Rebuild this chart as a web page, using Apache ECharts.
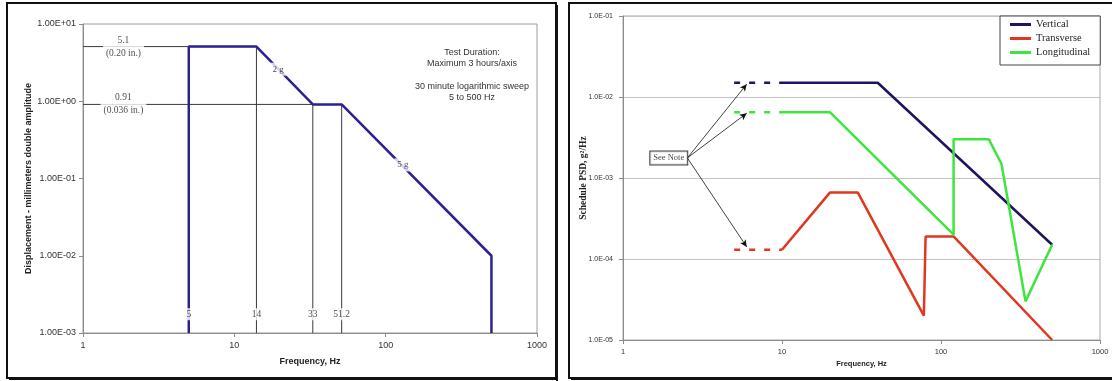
<!DOCTYPE html>
<html>
<head>
<meta charset="utf-8">
<script src="https://cdn.jsdelivr.net/npm/echarts@6/dist/echarts.min.js"></script>
<style>
  html, body { margin: 0; padding: 0; background: #fff; }
  #chart { width: 1112px; height: 381px; }
</style>
</head>
<body>
<div id="chart"></div>
<script>
// ---- Sine sweep displacement profile (left panel) ----
const sweepFreq = [5, 5, 14, 33, 51.2, 500, 500];
const sweepDisp = [0.001, 5.1, 5.1, 0.91, 0.91, 0.01, 0.001];

// horizontal reference levels (mm) and where each one meets the profile (Hz)
const refLevels = [5.1, 0.91];
const refLevelInches = ['0.20', '0.036'];
const refLevelEndFreq = [14, 33];
const refLevelLabelFreq = 1.85;

// vertical reference frequencies (Hz) and the level each one rises to
const refFreqs = [5, 14, 33, 51.2];
const refFreqTop = [5.1, 5.1, 0.91, 0.91];
const refFreqLabelLevel = 0.00175;

// slope annotations on the profile: [freq, disp, text]
const slopeNotes = [[19.5, 2.6, '2 g'], [130, 0.15, '5 g']];

// tick labels
const sweepXTicks = ['1', '10', '100', '1000'];
const sweepYTicks = ['1.00E-03', '1.00E-02', '1.00E-01', '1.00E+00', '1.00E+01'];

// ---- Random vibration PSD schedule (right panel) ----
const noteFreq = [5, 10];
const vertFreq = [10, 40, 500];
const vertPsd = [0.015, 0.015, 0.00015];
const transFreq = [10, 20, 30, 78, 80, 120, 500];
const transPsd = [0.00013, 0.00066, 0.00066, 0.00002, 0.00019, 0.00019, 0.00001];
const longFreq = [10, 20, 120, 120, 200, 240, 340, 500];
const longPsd = [0.0065, 0.0065, 0.0002, 0.003, 0.003, 0.0015, 0.00003, 0.00015];

// "See Note" callout: box centre, arrow origin, arrow tips
const noteBox = [1.94, 0.00177];
const noteArrowFrom = [2.54, 0.00177];
const noteArrowTips = [[6.0, 0.0144], [6.0, 0.0063], [6.0, 0.000141]];

const psdXTicks = ['1', '10', '100', '1000'];
const psdYTicks = ['1.0E-05', '1.0E-04', '1.0E-03', '1.0E-02', '1.0E-01'];

// ---- styling ----
const SANS = 'Arial, "Liberation Sans", sans-serif';
const SERIF = '"Times New Roman", "Liberation Serif", serif';
const C_SWEEP = '#2b2191';
const C_REF = '#3a3a3a';
const C_VERT = '#1d1560';
const C_TRANS = '#e0371f';
const C_LONG = '#3ce63c';

const exp10 = v => Math.round(Math.log10(v));
const pairs = (xs, ys) => xs.map((x, i) => [x, ys[i]]);

function seg(data, color, width, axis, extra) {
  return Object.assign({
    type: 'line', xAxisIndex: axis, yAxisIndex: axis, data: data,
    symbol: 'none', silent: true,
    lineStyle: { color: color, width: width },
    itemStyle: { color: color }, z: 2
  }, extra || {});
}

const series = [];

// reference lines
refLevels.forEach((lv, i) => {
  series.push(seg([[1, lv], [refLevelEndFreq[i], lv]], C_REF, 1, 0));
});
refFreqs.forEach((f, i) => {
  if (i === 0) return; // the 5 Hz edge is the profile itself
  series.push(seg([[f, 0.001], [f, refFreqTop[i]]], C_REF, 1, 0));
});

// displacement profile
series.push(seg(pairs(sweepFreq, sweepDisp), C_SWEEP, 2.5, 0, { z: 3 }));

// labels with white boxes sitting on top of the lines
const boxLabel = (size, family) => ({
  show: true, position: 'inside', color: '#222',
  fontFamily: family, fontSize: size, backgroundColor: '#fff',
  padding: [1, 2]
});
series.push({
  type: 'scatter', xAxisIndex: 0, yAxisIndex: 0, symbolSize: 0, silent: true, z: 5,
  data: refLevels.map((lv, i) => ({ value: [refLevelLabelFreq, lv], inch: refLevelInches[i] })),
  label: Object.assign(boxLabel(9.5, SERIF), {
    lineHeight: 13, padding: [0, 3],
    formatter: p => p.value[1] + '\n(' + p.data.inch + ' in.)'
  })
});
series.push({
  type: 'scatter', xAxisIndex: 0, yAxisIndex: 0, symbolSize: 0, silent: true, z: 5,
  data: refFreqs.map(f => [f, refFreqLabelLevel]),
  label: Object.assign(boxLabel(9.5, SERIF), { formatter: p => String(p.value[0]) })
});
series.push({
  type: 'scatter', xAxisIndex: 0, yAxisIndex: 0, symbolSize: 0, silent: true, z: 5,
  data: slopeNotes.map(n => ({ value: [n[0], n[1]], txt: n[2] })),
  label: Object.assign(boxLabel(9, SERIF), { padding: [2, 3], formatter: p => p.data.txt })
});

// PSD schedule
const dashed = { type: [6, 9], width: 2.5 };
series.push(seg(pairs(vertFreq, vertPsd), C_VERT, 2.5, 1, { name: 'Vertical' }));
series.push(seg(pairs(transFreq, transPsd), C_TRANS, 2.5, 1, { name: 'Transverse' }));
series.push(seg(pairs(longFreq, longPsd), C_LONG, 2.5, 1, { name: 'Longitudinal' }));
series.push(seg(noteFreq.map(f => [f, vertPsd[0]]), C_VERT, 2.5, 1,
  { name: 'Vertical low', lineStyle: Object.assign({ color: C_VERT }, dashed) }));
series.push(seg(noteFreq.map(f => [f, longPsd[0]]), C_LONG, 2.5, 1,
  { name: 'Longitudinal low', lineStyle: Object.assign({ color: C_LONG }, dashed) }));
series.push(seg(noteFreq.map(f => [f, transPsd[0]]), C_TRANS, 2.5, 1,
  { name: 'Transverse low', lineStyle: Object.assign({ color: C_TRANS }, dashed) }));

// note callout with arrows
series.push({
  type: 'scatter', xAxisIndex: 1, yAxisIndex: 1, symbolSize: 0, silent: true, z: 6,
  data: [noteBox],
  label: {
    show: true, position: 'inside', formatter: 'See Note', color: '#111',
    fontFamily: SERIF, fontSize: 8.5, backgroundColor: '#fff',
    borderColor: '#111', borderWidth: 1, padding: [2, 3]
  },
  markLine: {
    silent: true, symbol: ['none', 'arrow'], symbolSize: [5, 7],
    lineStyle: { color: '#111', width: 0.8, type: 'solid' },
    label: { show: false },
    data: noteArrowTips.map(t => [{ coord: noteArrowFrom }, { coord: t }])
  }
});

const tickStyle = { length: 4, lineStyle: { color: '#8c8c8c' } };
const axisLineStyle = { onZero: false, lineStyle: { color: '#8c8c8c' } };

const option = {
  backgroundColor: '#fff',
  animation: false,
  grid: [
    { left: 83, top: 24, width: 454, height: 309, show: true, borderColor: '#9c9c9c', borderWidth: 1 },
    { left: 623, top: 16, width: 477, height: 324, show: true, borderColor: '#aaaaaa', borderWidth: 1 }
  ],
  xAxis: [
    {
      type: 'log', logBase: 10, min: 1, max: 1000, gridIndex: 0,
      axisLine: axisLineStyle, axisTick: tickStyle, splitLine: { show: false },
      axisLabel: { margin: 8, color: '#333', fontFamily: SANS, fontSize: 9,
        formatter: v => sweepXTicks[exp10(v)] },
      name: 'Frequency, Hz', nameLocation: 'middle', nameGap: 24, nameMoveOverlap: false,
      nameTextStyle: { color: '#222', fontFamily: SANS, fontSize: 9, fontWeight: 'bold' }
    },
    {
      type: 'log', logBase: 10, min: 1, max: 1000, gridIndex: 1,
      axisLine: axisLineStyle, axisTick: tickStyle, splitLine: { show: false },
      axisLabel: { margin: 8, color: '#333', fontFamily: SANS, fontSize: 7.5,
        formatter: v => psdXTicks[exp10(v)] },
      name: 'Frequency, Hz', nameLocation: 'middle', nameGap: 20, nameMoveOverlap: false,
      nameTextStyle: { color: '#222', fontFamily: SANS, fontSize: 7.5, fontWeight: 'bold' }
    }
  ],
  yAxis: [
    {
      type: 'log', logBase: 10, min: 0.001, max: 10, gridIndex: 0,
      axisLine: axisLineStyle, axisTick: tickStyle, splitLine: { show: false },
      axisLabel: { margin: 7, color: '#333', fontFamily: SANS, fontSize: 9,
        formatter: v => sweepYTicks[exp10(v) + 3] },
      name: 'Displacement - millimeters double amplitude', nameLocation: 'middle',
      nameRotate: 90, nameGap: 50, nameMoveOverlap: false,
      nameTextStyle: { color: '#222', fontFamily: SANS, fontSize: 9, fontWeight: 'bold' }
    },
    {
      type: 'log', logBase: 10, min: 0.00001, max: 0.1, gridIndex: 1,
      axisLine: axisLineStyle, axisTick: tickStyle,
      splitLine: { show: true, lineStyle: { color: '#c4c4c4', width: 1 } },
      axisLabel: { margin: 10, color: '#333', fontFamily: SANS, fontSize: 7,
        formatter: v => psdYTicks[exp10(v) + 5] },
      name: 'Schedule PSD, g²/Hz', nameLocation: 'middle', nameRotate: 90, nameGap: 34,
      nameMoveOverlap: false,
      nameTextStyle: { color: '#222', fontFamily: SERIF, fontSize: 9.5, fontWeight: 'bold' }
    }
  ],
  legend: {
    data: ['Vertical', 'Transverse', 'Longitudinal'],
    orient: 'vertical', left: 1000, top: 16,
    backgroundColor: '#fff', borderColor: '#444', borderWidth: 1,
    padding: [3, 10, 7, 10], icon: 'rect', itemWidth: 21, itemHeight: 3, itemGap: 3,
    textStyle: { color: '#222', fontFamily: SERIF, fontSize: 10.5 },
    selectedMode: false
  },
  graphic: [
    { type: 'rect', silent: true, z: 100,
      shape: { x: 7, y: 3, width: 549, height: 375 },
      style: { fill: 'none', stroke: '#111', lineWidth: 2 } },
    { type: 'rect', silent: true, z: 100,
      shape: { x: 556, y: 5, width: 2, height: 376 }, style: { fill: '#111' } },
    { type: 'rect', silent: true, z: 100,
      shape: { x: 9, y: 378, width: 549, height: 2 }, style: { fill: '#111' } },
    { type: 'rect', silent: true, z: 100,
      shape: { x: 569, y: 3, width: 560, height: 375 },
      style: { fill: 'none', stroke: '#111', lineWidth: 2 } },
    { type: 'rect', silent: true, z: 100,
      shape: { x: 571, y: 378, width: 560, height: 2 }, style: { fill: '#111' } },
    { type: 'text', silent: true, z: 100, x: 472, y: 47,
      style: {
        text: 'Test Duration:\nMaximum 3 hours/axis\n\n30 minute logarithmic sweep\n5 to 500 Hz',
        font: '9px ' + SANS, fill: '#333', textAlign: 'center', textVerticalAlign: 'top',
        lineHeight: 11.2
      } }
  ],
  series: series
};

const chart = echarts.init(document.getElementById('chart'), null, { renderer: 'canvas' });
chart.setOption(option);
</script>
</body>
</html>
